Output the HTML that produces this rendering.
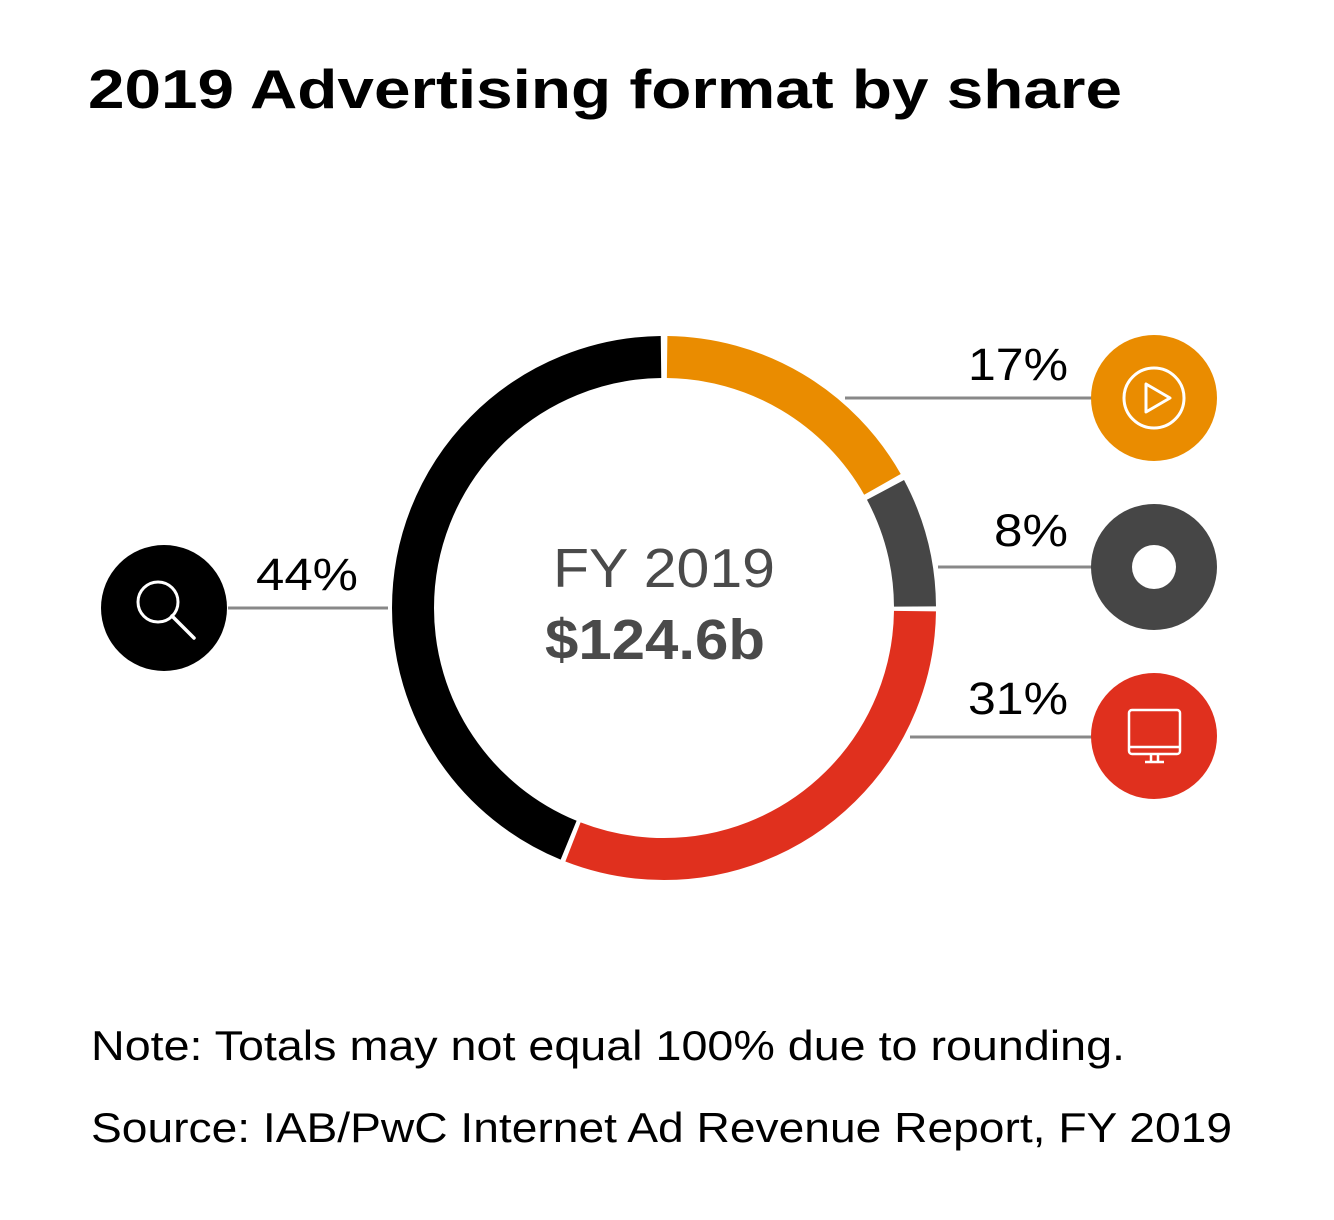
<!DOCTYPE html>
<html><head><meta charset="utf-8"><style>
html,body{margin:0;padding:0;background:#fff;}
svg{display:block;}
text{font-family:"Liberation Sans",Arial,sans-serif;}
</style></head><body>
<svg width="1334" height="1220" viewBox="0 0 1334 1220" xmlns="http://www.w3.org/2000/svg">
<rect width="1334" height="1220" fill="#fff"/>
<text x="88" y="108" font-size="55" font-weight="bold" fill="#000" textLength="1034" lengthAdjust="spacingAndGlyphs">2019 Advertising format by share</text>
<g transform="rotate(-90 664 608)" fill="none" stroke-width="42">
<circle cx="664" cy="608" r="251" stroke="#ea8c00" stroke-dasharray="261.8 1315.3" stroke-dashoffset="-3.15"/>
<circle cx="664" cy="608" r="251" stroke="#464646" stroke-dasharray="121.4 1455.7" stroke-dashoffset="-271.3"/>
<circle cx="664" cy="608" r="251" stroke="#e0301e" stroke-dasharray="484.2 1092.9" stroke-dashoffset="-397.4"/>
<circle cx="664" cy="608" r="251" stroke="#000" stroke-dasharray="687.6 889.5" stroke-dashoffset="-886.3"/>
</g>
<text x="553" y="587" font-size="55" fill="#4a4a4a" textLength="222" lengthAdjust="spacingAndGlyphs">FY 2019</text>
<text x="545" y="659" font-size="57" font-weight="bold" fill="#4a4a4a" textLength="220" lengthAdjust="spacingAndGlyphs">$124.6b</text>
<g stroke="#888" stroke-width="3">
<line x1="845" y1="398" x2="1092" y2="398"/>
<line x1="938" y1="567" x2="1092" y2="567"/>
<line x1="910" y1="737" x2="1092" y2="737"/>
<line x1="228" y1="608" x2="388" y2="608"/>
</g>
<g font-size="45" fill="#000">
<text x="968" y="380" textLength="100" lengthAdjust="spacingAndGlyphs">17%</text>
<text x="994" y="546" textLength="74" lengthAdjust="spacingAndGlyphs">8%</text>
<text x="968" y="714" textLength="100" lengthAdjust="spacingAndGlyphs">31%</text>
<text x="256" y="590" textLength="102" lengthAdjust="spacingAndGlyphs">44%</text>
</g>
<circle cx="1154" cy="398" r="63" fill="#ea8c00"/>
<circle cx="1154" cy="398" r="30" fill="none" stroke="#fff" stroke-width="3"/>
<path d="M1146 384 L1146 412 L1170 398 Z" fill="none" stroke="#fff" stroke-width="3" stroke-linejoin="round"/>
<circle cx="1154" cy="567" r="63" fill="#464646"/>
<circle cx="1154" cy="567" r="22" fill="#fff"/>
<circle cx="1154" cy="736" r="63" fill="#e0301e"/>
<rect x="1129" y="710" width="51" height="44" rx="3" fill="none" stroke="#fff" stroke-width="2.5"/>
<line x1="1129" y1="747" x2="1180" y2="747" stroke="#fff" stroke-width="2.5"/>
<line x1="1151" y1="754" x2="1151" y2="762" stroke="#fff" stroke-width="2.5"/>
<line x1="1158" y1="754" x2="1158" y2="762" stroke="#fff" stroke-width="2.5"/>
<line x1="1145" y1="762" x2="1164" y2="762" stroke="#fff" stroke-width="2.5"/>
<circle cx="164" cy="608" r="63" fill="#000"/>
<circle cx="158" cy="602" r="20" fill="none" stroke="#fff" stroke-width="3"/>
<line x1="172" y1="616" x2="194" y2="638" stroke="#fff" stroke-width="3.5" stroke-linecap="round"/>
<text x="91" y="1060" font-size="42" fill="#000" textLength="1034" lengthAdjust="spacingAndGlyphs">Note: Totals may not equal 100% due to rounding.</text>
<text x="91" y="1142" font-size="42" fill="#000" textLength="1141" lengthAdjust="spacingAndGlyphs">Source: IAB/PwC Internet Ad Revenue Report, FY 2019</text>
</svg>
</body></html>
